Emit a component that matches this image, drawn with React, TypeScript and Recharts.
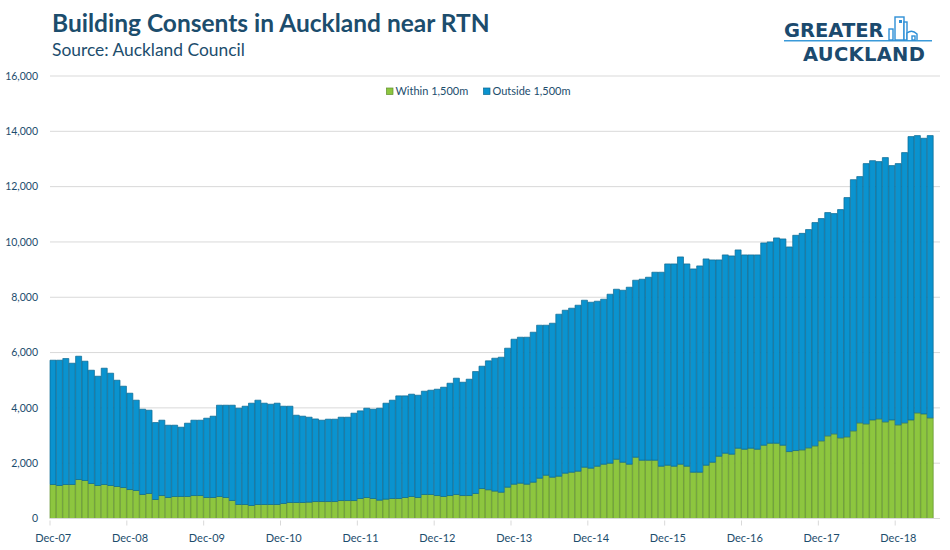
import React from 'react';
import { BarChart, Bar, XAxis, YAxis, CartesianGrid } from 'recharts';

// Monthly categories, Dec-07 .. May-19 (plus one empty trailing slot, Jun-19)
const MONTH_NAMES = ['Jan', 'Feb', 'Mar', 'Apr', 'May', 'Jun', 'Jul', 'Aug', 'Sep', 'Oct', 'Nov', 'Dec'];
const START_YEAR = 2007;
const START_MONTH = 11; // December

// Total consents (both series stacked)
const totalValues = [
  5724, 5724, 5784, 5615, 5868, 5688, 5362, 5145, 5435, 5254, 5000, 4784,
  4531, 4278, 3952, 3916, 3470, 3555, 3374, 3374, 3302, 3446, 3555, 3555,
  3627, 3700, 4097, 4097, 4097, 3989, 4060, 4170, 4278, 4170, 4133, 4170,
  4060, 4060, 3735, 3700, 3663, 3600, 3555, 3591, 3591, 3663, 3663, 3808,
  3892, 3988, 3952, 3988, 4169, 4278, 4434, 4434, 4495, 4458, 4603, 4639,
  4675, 4748, 4892, 5073, 4928, 5037, 5314, 5507, 5700, 5796, 5832, 6158,
  6483, 6555, 6555, 6736, 6989, 6989, 7061, 7387, 7531, 7604, 7712, 7893,
  7820, 7857, 7929, 8110, 8290, 8254, 8363, 8616, 8652, 8724, 8905, 8905,
  9206, 9206, 9459, 9206, 9025, 9134, 9387, 9351, 9351, 9532, 9495, 9712,
  9532, 9532, 9532, 9965, 10002, 10146, 10110, 9820, 10240, 10310, 10447, 10700,
  10845, 11062, 11025, 11170, 11604, 12253, 12363, 12832, 12940, 12904, 13049, 12760,
  12832, 13230, 13809, 13845, 13749, 13845,
];

// Within 1,500m of RTN
const withinValues = [
  1229, 1193, 1229, 1229, 1410, 1374, 1265, 1193, 1229, 1193, 1157, 1120,
  1048, 1012, 868, 904, 687, 831, 759, 795, 795, 795, 831, 831,
  759, 759, 795, 759, 651, 506, 506, 470, 506, 506, 506, 506,
  542, 578, 578, 578, 590, 614, 614, 614, 614, 650, 650, 650,
  723, 759, 723, 663, 699, 723, 723, 759, 795, 759, 868, 868,
  831, 795, 831, 868, 831, 831, 904, 1084, 1040, 990, 950, 1133,
  1241, 1277, 1241, 1313, 1458, 1566, 1494, 1530, 1639, 1675, 1711, 1856,
  1820, 1892, 1964, 2000, 2143, 2036, 1964, 2217, 2109, 2109, 2109, 1892,
  1928, 1892, 1964, 1892, 1675, 1675, 1928, 2036, 2253, 2362, 2326, 2543,
  2506, 2543, 2506, 2651, 2723, 2723, 2651, 2420, 2458, 2482, 2555, 2627,
  2808, 2988, 3060, 2916, 2952, 3169, 3458, 3422, 3566, 3603, 3494, 3566,
  3386, 3458, 3566, 3820, 3783, 3639,
];

const yTicks = [0, 2000, 4000, 6000, 8000, 10000, 12000, 14000, 16000];
const xTickLabels = ['Dec-07', 'Dec-08', 'Dec-09', 'Dec-10', 'Dec-11', 'Dec-12', 'Dec-13', 'Dec-14', 'Dec-15', 'Dec-16', 'Dec-17', 'Dec-18'];
const seriesNames = ['Within 1,500m', 'Outside 1,500m'];

const GREEN = '#8DC63F';
const GREEN_EDGE = '#5E8F2B';
const BLUE = '#0A93CF';
const BLUE_EDGE = '#0B6891';
const TEXT = '#1C4D6D';
const GRID = '#D9D9D9';
const FONT = 'Lato, "Open Sans", sans-serif';
const LOGO_FONT = '"DejaVu Sans", sans-serif';

const SLOT_COUNT = totalValues.length + 1;

const data = Array.from({ length: SLOT_COUNT }, (_, i) => {
  const m = (START_MONTH + i) % 12;
  const y = START_YEAR + Math.floor((START_MONTH + i) / 12);
  const label = `${MONTH_NAMES[m]}-${String(y % 100).padStart(2, '0')}`;
  const hasValue = i < totalValues.length;
  return {
    month: label,
    within: hasValue ? withinValues[i] : null,
    outside: hasValue ? totalValues[i] - withinValues[i] : null,
  };
});

const PLOT_LEFT = 50;
const PLOT_RIGHT = 940;
const BAND = (PLOT_RIGHT - PLOT_LEFT) / SLOT_COUNT;

const XTick = (props: any) => {
  const { x, y, payload } = props;
  const label = payload && payload.value;
  if (!xTickLabels.includes(label)) return <g />;
  const edge = x - BAND / 2;
  return (
    <g>
      <line x1={edge} x2={edge} y1={y - 6} y2={y - 1} stroke={GRID} strokeWidth={1} />
      <text x={x} y={y + 15} textAnchor="middle" fontSize={11} fill={TEXT} fontFamily={FONT}>
        {label}
      </text>
    </g>
  );
};

const fmt = (v: number) => v.toLocaleString('en-US');

export default function App() {
  return (
    <div style={{ position: 'absolute', left: 0, top: 0, width: 950, height: 550, background: '#fff' }}>
      <BarChart
        width={950}
        height={550}
        data={data}
        margin={{ top: 76, right: 10, left: 0, bottom: 0 }}
        barCategoryGap={0}
        barGap={0}
      >
        <CartesianGrid vertical={false} stroke={GRID} strokeWidth={1} />
        <XAxis
          dataKey="month"
          interval={0}
          height={31.5}
          tick={<XTick />}
          tickLine={false}
          axisLine={{ stroke: GRID }}
        />
        <YAxis
          width={50}
          domain={[0, 16000]}
          ticks={yTicks}
          tickFormatter={fmt}
          axisLine={false}
          tickLine={false}
          tickMargin={6}
          tick={{ fontSize: 10.5, fill: TEXT, fontFamily: FONT }}
          interval={0}
        />
        <Bar dataKey="within" name={seriesNames[0]} stackId="a" fill={GREEN} stroke={GREEN_EDGE} strokeWidth={0.7} isAnimationActive={false} />
        <Bar dataKey="outside" name={seriesNames[1]} stackId="a" fill={BLUE} stroke={BLUE_EDGE} strokeWidth={0.7} isAnimationActive={false} />
      </BarChart>

      <svg width={950} height={110} style={{ position: 'absolute', left: 0, top: 0, pointerEvents: 'none' }}>
        <text x={52} y={32} fontSize={24.5} fontWeight={700} fill={TEXT} fontFamily={FONT}>
          Building Consents in Auckland near RTN
        </text>
        <text x={52} y={56} fontSize={17.4} fill={TEXT} fontFamily={FONT}>
          Source: Auckland Council
        </text>

        {/* Logo */}
        <text x={784} y={37} fontSize={19.5} fontWeight={700} fill="#1B4A6E" fontFamily={LOGO_FONT}>
          GREATER
        </text>
        <line x1={784} x2={932} y1={40.7} y2={40.7} stroke="#3A9AD9" strokeWidth={1.5} />
        <text x={803} y={60.5} fontSize={19.5} fontWeight={700} fill="#1B4A6E" fontFamily={LOGO_FONT} letterSpacing={0.3}>
          AUCKLAND
        </text>
        <g fill="#fff" stroke="#2E8FD6" strokeWidth={1.4}>
          <rect x={889} y={29} width={4} height={11} />
          <rect x={895} y={17} width={9} height={23} />
          <rect x={904} y={22} width={3} height={18} />
          <path d="M907 40 L907 33 Q912 29 917 34 L917 40" />
          <rect x={912} y={36} width={3} height={4} />
        </g>
        <rect x={899} y={20} width={3} height={3} fill="#2E8FD6" />

        {/* Legend */}
        <rect x={386.5} y={88} width={6.5} height={6.5} fill={GREEN} stroke={GREEN_EDGE} strokeWidth={0.7} />
        <text x={395.5} y={95} fontSize={11} fill={TEXT} fontFamily={FONT}>{seriesNames[0]}</text>
        <rect x={483.5} y={88} width={6.5} height={6.5} fill={BLUE} stroke={BLUE_EDGE} strokeWidth={0.7} />
        <text x={492.5} y={95} fontSize={11} fill={TEXT} fontFamily={FONT}>{seriesNames[1]}</text>
      </svg>
    </div>
  );
}
